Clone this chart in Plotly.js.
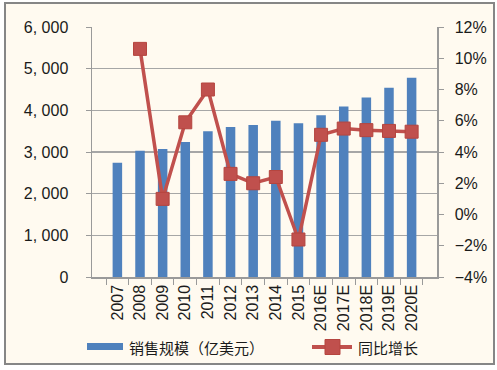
<!DOCTYPE html>
<html><head><meta charset="utf-8">
<script src="https://cdn.plot.ly/plotly-3.0.1.min.js"></script>
<style>
html,body{margin:0;padding:0;background:#ffffff;}
#frame{position:absolute;left:4px;top:2px;width:487px;height:359px;border:2px solid #868686;background:#fffaf0;}
#chart{position:absolute;left:0;top:0;width:497px;height:370px;}
</style></head>
<body>
<div id="frame"></div>
<div id="chart"></div>
<script>
const categories = ["2007","2008","2009","2010","2011","2012","2013","2014","2015","2016E","2017E","2018E","2019E","2020E"];
const salesValues = [2740,3030,3070,3240,3500,3600,3650,3750,3690,3880,4090,4310,4545,4785];
const growthValues = [null,10.6,1.0,5.9,8.0,2.6,2.0,2.4,-1.6,5.1,5.5,5.4,5.35,5.3];
const leftTickVals = [0,1000,2000,3000,4000,5000,6000];
const leftTickText = ["0","1, 000","2, 000","3, 000","4, 000","5, 000","6, 000"];
const rightTickVals = [-4,-2,0,2,4,6,8,10,12];
const rightTickText = ["\u22124%","\u22122%","0%","2%","4%","6%","8%","10%","12%"];
const seriesNames = ["销售规模（亿美元）","同比增长"];

const barColor = "#4f81bd", lineColor = "#c0504d";
const font = {family:"Liberation Sans", size:16, color:"#1a1a1a"};
const cjkFont = {family:"Noto Sans CJK SC", size:15, color:"#1a1a1a"};

const data = [
  {type:"bar", x:categories, y:salesValues, name:seriesNames[0], marker:{color:barColor}, width:0.42},
  {type:"scatter", mode:"lines+markers", x:categories, y:growthValues, yaxis:"y2", name:seriesNames[1],
   line:{color:lineColor, width:3.5}, marker:{symbol:"square", size:13, color:lineColor, line:{color:"#b5453f", width:1}}, connectgaps:false}
];

// custom legend (paper coords: x=(px-92)/345, y=(277-py)/250)
const px = v => (v-92)/345, py = v => (277-v)/250;
const shapes = [
  {type:"rect", xref:"paper", yref:"paper", x0:px(87), x1:px(123), y0:py(343), y1:py(350), fillcolor:barColor, line:{width:0}},
  {type:"line", xref:"paper", yref:"paper", x0:px(312), x1:px(352), y0:py(347), y1:py(347), line:{color:lineColor, width:4}},
  {type:"rect", xref:"paper", yref:"paper", x0:px(325), x1:px(340), y0:py(339.5), y1:py(354.5), fillcolor:lineColor, line:{color:"#b5453f", width:1}}
];
const annotations = [
  {xref:"paper", yref:"paper", x:px(127), y:py(347), xanchor:"left", yanchor:"middle", text:seriesNames[0], showarrow:false, font:cjkFont},
  {xref:"paper", yref:"paper", x:px(356), y:py(347), xanchor:"left", yanchor:"middle", text:seriesNames[1], showarrow:false, font:cjkFont}
];

const layout = {
  width:497, height:370,
  paper_bgcolor:"rgba(0,0,0,0)", plot_bgcolor:"rgba(0,0,0,0)",
  margin:{l:92, r:60, t:27, b:93},
  font:font,
  showlegend:false,
  shapes:shapes, annotations:annotations,
  xaxis:{type:"category", tickangle:-90, ticks:"outside", tickson:"boundaries", ticklen:6, tickcolor:"#9a9a9a",
         showline:true, linecolor:"#9a9a9a", linewidth:1.5, showgrid:false, tickfont:font, automargin:false},
  yaxis:{range:[0,6000], tickvals:leftTickVals, ticktext:leftTickText, ticks:"outside", ticklen:5, tickcolor:"#9a9a9a",
         showline:true, linecolor:"#9a9a9a", linewidth:1.5, showgrid:true, gridcolor:"#a6a6a6", gridwidth:1.2, zeroline:false,
         ticklabelstandoff:14, tickfont:font, automargin:false},
  yaxis2:{overlaying:"y", side:"right", range:[-4,12], tickvals:rightTickVals, ticktext:rightTickText, ticks:"outside", ticklen:5,
          tickcolor:"#9a9a9a", showline:true, linecolor:"#9a9a9a", linewidth:1.5, showgrid:false, zeroline:false,
          ticklabelstandoff:8, tickfont:font, automargin:false}
};
Plotly.newPlot("chart", data, layout, {displayModeBar:false, staticPlot:true});
</script>
</body></html>
